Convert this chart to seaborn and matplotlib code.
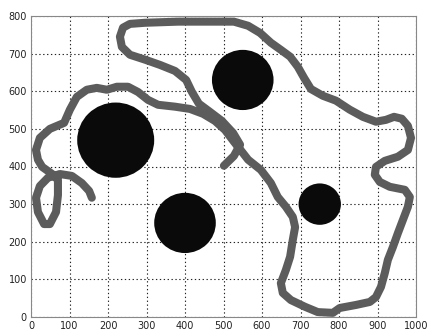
import matplotlib
matplotlib.use("Agg")
import matplotlib.pyplot as plt
from matplotlib.patches import Circle
import seaborn as sns
import pandas as pd

# Path (x, y) in data units, in drawing order
path_x = [158, 151, 132, 106, 75, 44, 23, 13, 18, 34, 49, 65, 70, 70, 55, 29, 18, 13, 23, 49,
          86, 101, 119, 145, 171, 197, 223, 252, 278, 304, 330, 374, 413, 447, 478, 504, 527, 548,
          564, 597, 623, 641, 662, 680, 686, 680, 673, 662, 649, 654, 675, 712, 745, 784, 802, 844,
          880, 896, 909, 919, 927, 940, 953, 966, 979, 984, 971, 932, 906, 893, 896, 919, 953, 979,
          987, 979, 963, 943, 922, 896, 862, 828, 792, 758, 727, 709, 693, 673, 649, 623, 595, 564,
          527, 473, 382, 296, 257, 239, 231, 236, 257, 296, 335, 374, 403, 418, 436, 465, 496, 525,
          543, 527, 501]
path_y = [317, 335, 356, 375, 380, 370, 348, 317, 279, 247, 247, 279, 324, 364, 380, 399, 418, 444, 476, 500,
          516, 551, 585, 604, 609, 604, 612, 612, 598, 577, 564, 559, 553, 540, 521, 497, 466, 439,
          418, 391, 356, 319, 293, 266, 239, 205, 160, 125, 90, 64, 45, 27, 13, 11, 24, 32,
          40, 53, 80, 117, 152, 186, 223, 258, 293, 319, 338, 346, 359, 378, 399, 415, 426, 444,
          476, 508, 527, 532, 524, 519, 532, 551, 575, 588, 606, 636, 665, 692, 710, 729, 755, 774,
          785, 785, 785, 782, 779, 769, 745, 718, 697, 684, 670, 654, 630, 598, 567, 545, 521, 489,
          458, 428, 402]

# Obstacles
obs_x = [220, 550, 400, 750]
obs_y = [470, 630, 250, 300]
obs_r = [100, 80, 80, 55]

x_ticks = list(range(0, 1001, 100))
y_ticks = list(range(0, 801, 100))

sns.set_style("white")
plt.rcParams['font.family'] = ['DejaVu Sans']

fig = plt.figure(figsize=(4.28, 3.35), dpi=100)
ax = fig.add_axes([31/428, 18/335, (416-31)/428, (317-16)/335])

df = pd.DataFrame({"x": path_x, "y": path_y})
sns.lineplot(data=df, x="x", y="y", sort=False, estimator=None, ax=ax,
             color="#5c5c5c", linewidth=5.8, solid_capstyle="round",
             solid_joinstyle="round", zorder=3)

for cx, cy, r in zip(obs_x, obs_y, obs_r):
    ax.add_patch(Circle((cx, cy), r, facecolor="#0a0a0a", edgecolor="none", zorder=4))

ax.set_xlim(0, 1000)
ax.set_ylim(0, 800)
ax.set_xticks(x_ticks)
ax.set_yticks(y_ticks)
ax.set_xticklabels([str(t) for t in x_ticks])
ax.set_yticklabels([str(t) for t in y_ticks])
ax.set_xlabel("")
ax.set_ylabel("")
ax.grid(True, color="#222222", linestyle=(0, (1.2, 2.3)), linewidth=0.8)
ax.set_axisbelow(True)
ax.tick_params(direction="in", length=3, width=0.6, colors="#555555",
               labelcolor="#222222", labelsize=7, pad=3)
for s in ax.spines.values():
    s.set_color("#888888")
    s.set_linewidth(0.8)

fig.savefig("out.png", dpi=100)
